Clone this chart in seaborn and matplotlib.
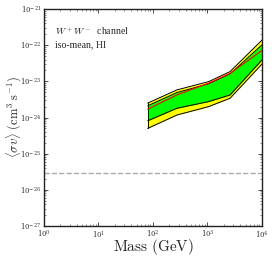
import numpy as np
import pandas as pd
import matplotlib
matplotlib.use('Agg')
import matplotlib.pyplot as plt
import seaborn as sns

# limits (GeV, cm^3 s^-1)
mass = [80, 275, 1050, 2600, 10000]
yellow_hi = [2.5e-24, 5.8e-24, 9.8e-24, 1.86e-23, 1.38e-22]
green_hi = [2.1e-24, 4.9e-24, 8.5e-24, 1.6e-23, 1.02e-22]
median = [1.7e-24, 4.2e-24, 8.9e-24, 1.66e-23, 7.1e-23]
green_lo = [8.1e-25, 1.8e-24, 2.75e-24, 4.2e-24, 3.9e-23]
yellow_lo = [5.0e-25, 1.17e-24, 2.0e-24, 3.4e-24, 3.0e-23]
thermal = 3e-26

df = pd.DataFrame({'mass': mass, 'median': median})

sns.set_style('ticks')
plt.rcParams['mathtext.fontset'] = 'cm'
plt.rcParams['font.family'] = ['DejaVu Serif']

fig = plt.figure(figsize=(2.74, 2.57), dpi=100)
ax = fig.add_axes([0.1606, 0.1206, 0.7955, 0.8444])

ax.fill_between(mass, yellow_lo, yellow_hi, color='#ffff00', lw=0)
ax.fill_between(mass, green_lo, green_hi, color='#00ff00', lw=0)
for edge in [yellow_hi, green_hi, green_lo, yellow_lo]:
    ax.plot(mass, edge, color='black', lw=0.7)
ax.plot([mass[0], mass[0]], [yellow_lo[0], yellow_hi[0]], color='black', lw=0.7)
ax.plot([mass[-1], mass[-1]], [yellow_lo[-1], yellow_hi[-1]], color='black', lw=0.7)
sns.lineplot(x='mass', y='median', data=df, color='red', lw=0.8, ax=ax)
ax.axhline(thermal, color='#aaaaaa', ls='--', lw=1)

ax.set_xscale('log')
ax.set_yscale('log')
ax.set_xlim(1, 1e4)
ax.set_ylim(1e-27, 1e-21)

ax.tick_params(which='both', direction='in', top=True, right=True, labelsize=5,
               colors='#333333', labelcolor='#333333', pad=2)
ax.tick_params(which='major', length=3, width=0.6)
ax.tick_params(which='minor', length=1.5, width=0.4)
for s in ax.spines.values():
    s.set_linewidth(1)
    s.set_color('#222222')

ax.set_xlabel(r'$\mathrm{Mass\ (GeV)}$', fontsize=11)
ax.set_ylabel(r'$\langle\sigma v\rangle\ \mathrm{(cm^3\ s^{-1})}$', fontsize=9)
ax.xaxis.set_label_coords(0.5, -0.05)
ax.yaxis.set_label_coords(-0.092, 0.5)

ax.text(0.05, 0.88, r'$W^+W^-$  channel', transform=ax.transAxes, fontsize=7,
        family='Liberation Serif')
ax.text(0.05, 0.825, 'iso-mean, HI', transform=ax.transAxes, fontsize=7,
        family='Liberation Serif')

fig.savefig('out.png', dpi=100)
